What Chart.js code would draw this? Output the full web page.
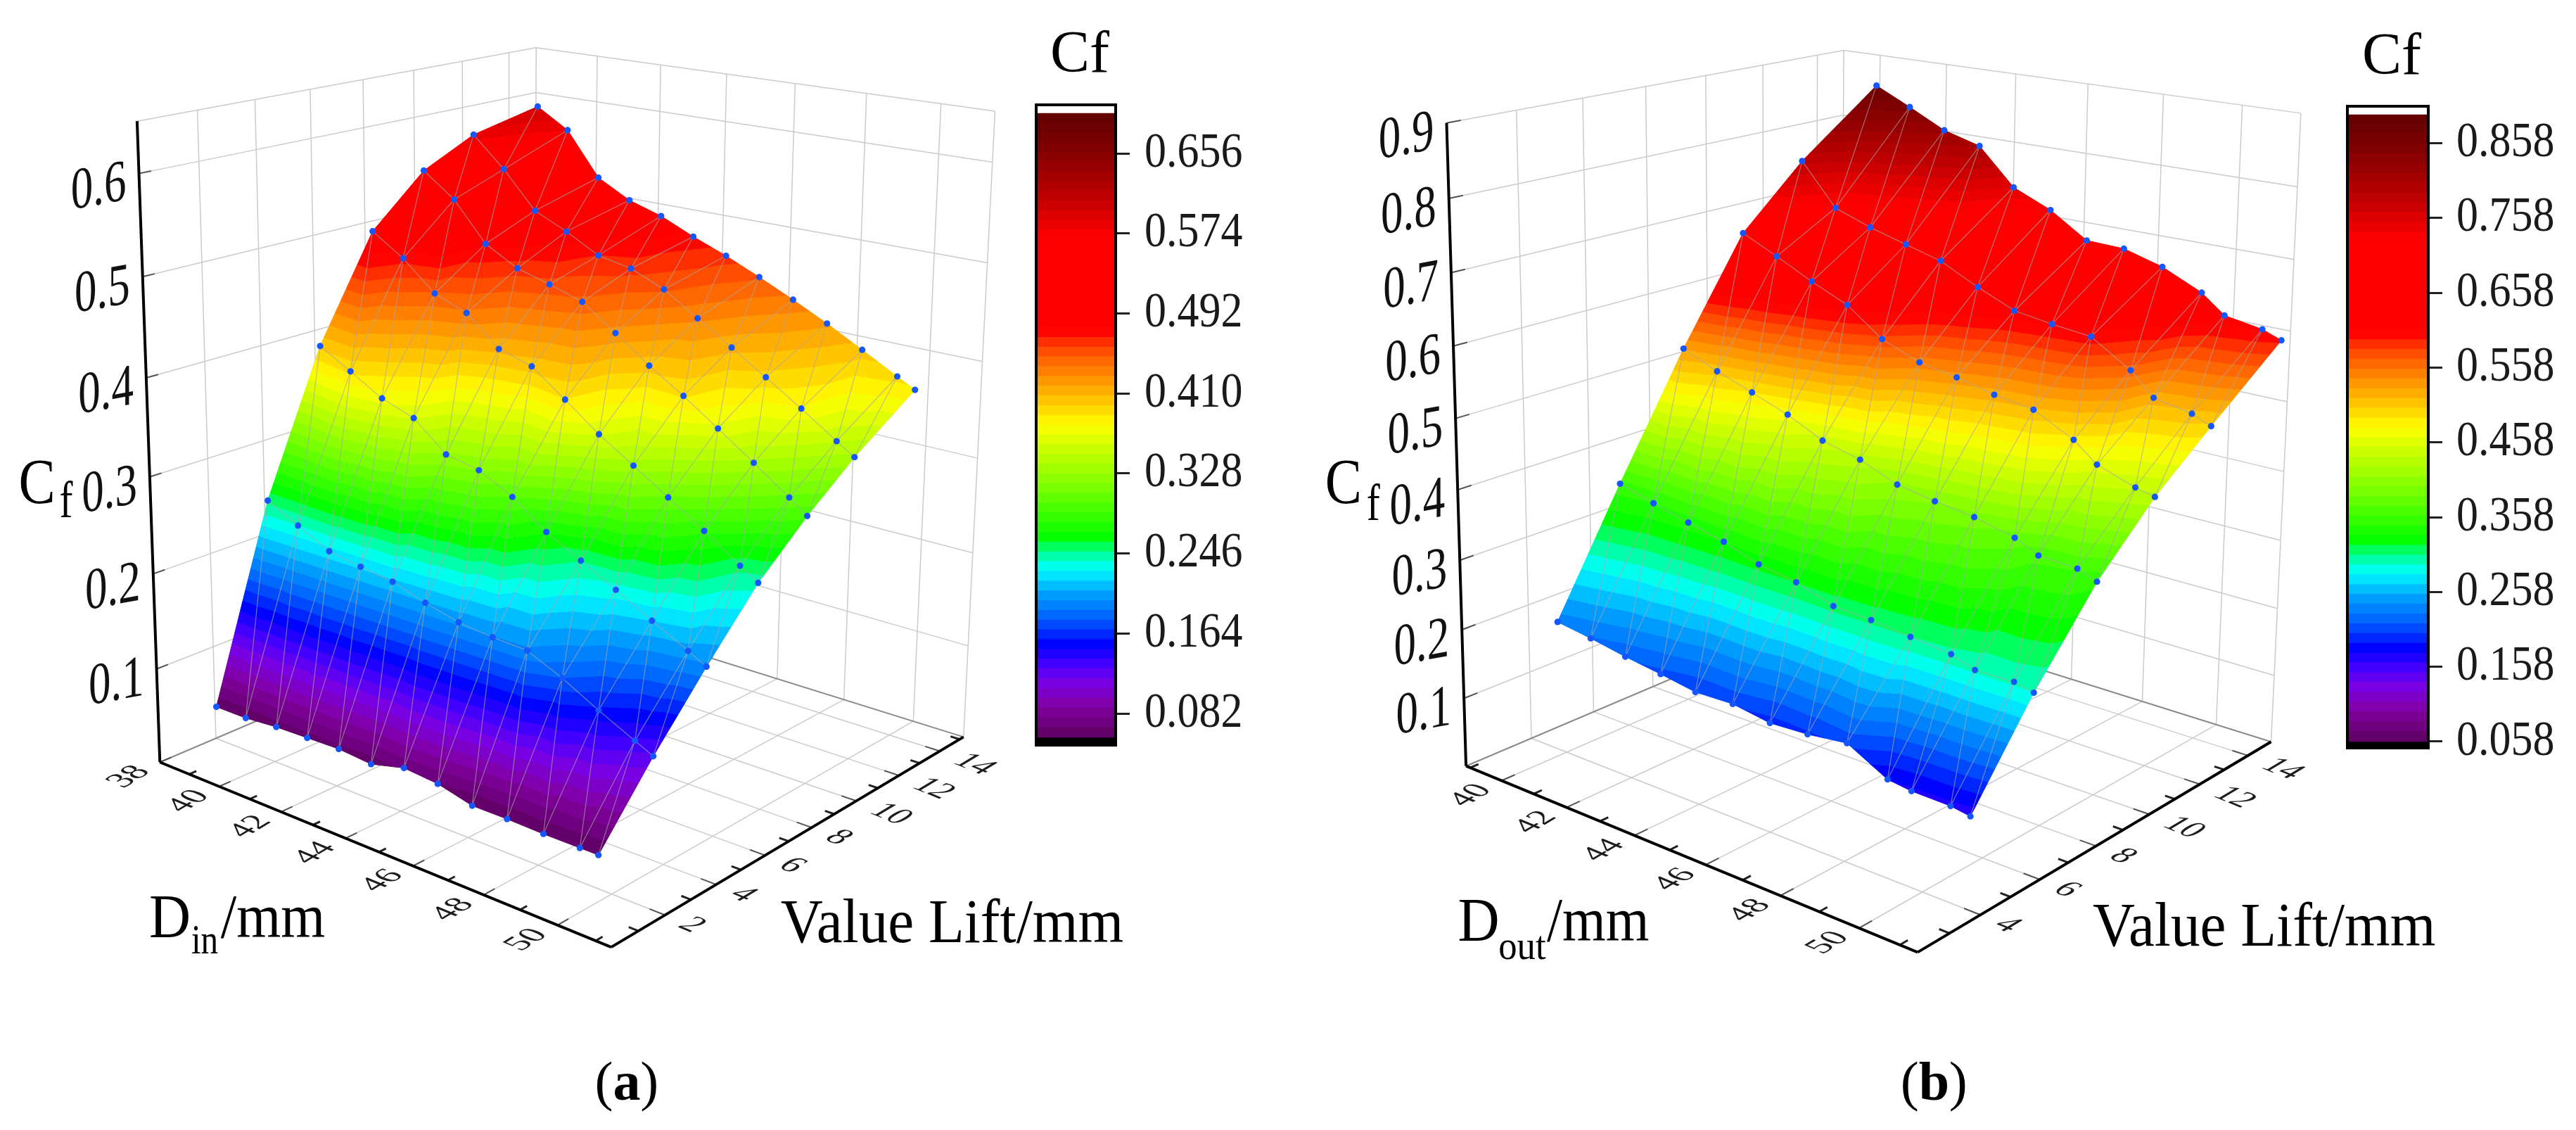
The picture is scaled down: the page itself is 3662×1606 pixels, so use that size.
<!DOCTYPE html>
<html><head><meta charset="utf-8">
<script src="https://cdn.jsdelivr.net/npm/chart.js@4"></script>
<style>html,body{margin:0;padding:0;background:#fff;width:3662px;height:1606px;overflow:hidden}canvas{position:absolute;display:block}</style>
</head><body>
<canvas id="main" width="3662" height="1606" style="left:0;top:0"></canvas>
<canvas id="cbA" width="340" height="1100" style="left:1440px;top:0"></canvas>
<canvas id="cbB" width="362" height="1100" style="left:3300px;top:0"></canvas>
<script>
// ---- data ----
const dInValues=[38,39,40.02,41.03,42.04,43.05,44.06,45.07,46.08,47.08,48.1,49.1,49.6];
const liftValuesA=[2.05,4.12,6.2,8.3,10.38,12.47,15.28];
const cfRowsA=[
[.034,.034,.037,.038,.039,.036,.045,.042,.033,.033,.032,.032,.032],
[.235,.218,.201,.195,.190,.179,.170,.166,.164,.148,.128,.110,.101],
[.382,.363,.343,.331,.302,.295,.277,.251,.232,.213,.193,.174,.164],
[.489,.467,.437,.424,.394,.384,.358,.331,.308,.285,.261,.236,.224],
[.541,.516,.475,.456,.446,.435,.410,.384,.361,.336,.310,.284,.270],
[.568,.536,.497,.481,.462,.455,.440,.417,.394,.371,.347,.322,.310],
[.584,.563,.516,.497,.486,.470,.456,.440,.423,.405,.385,.365,.355]];
const dOutValues=[40,41.02,42.06,43.1,44.1,45.15,46.17,47.18,48.21,49.25,49.85,50.81,51.29];
const liftValuesB=[3.8,5.83,7.95,10,12.1,14.87];
const cfRowsB=[
[.197,.190,.181,.174,.166,.168,.160,.163,.170,.141,.137,.136,.132],
[.365,.351,.338,.326,.309,.300,.283,.280,.274,.268,.257,.258,.252],
[.533,.512,.494,.475,.451,.438,.417,.408,.401,.388,.373,.370,.360],
[.679,.655,.629,.606,.568,.547,.538,.526,.518,.490,.464,.446,.440],
[.765,.704,.685,.670,.656,.629,.606,.598,.592,.557,.526,.516,.505],
[.855,.830,.803,.788,.735,.711,.676,.674,.658,.632,.606,.597,.587]];
// ---- axes ----
const dTicksA=[38,40,42,44,46,48,50], dTicksB=[40,42,44,46,48,50];
const dMinorA=[39,41,43,45,47,49,51], dMinorB=[39,41,43,45,47,49,51];
const liftTicksA=[2,4,6,8,10,12,14], liftTicksB=[4,6,8,10,12,14];
const liftMinorA=[1,3,5,7,9,11,13,15], liftMinorB=[3,5,7,9,11,13];
const cfTicksA=[.1,.2,.3,.4,.5,.6], cfTicksB=[.1,.2,.3,.4,.5,.6,.7,.8,.9];
const rangeA={d:[38,51.4],l:[0,15.2],z:[0,.65]}, rangeB={d:[38.87,51.43],l:[2,15],z:[0,.9]};
const colorTicksA=[.082,.164,.246,.328,.410,.492,.574,.656];
const colorTicksB=[.058,.158,.258,.358,.458,.558,.658,.758,.858];
// ---- colour scale ----
const cmapPos=[0,.048,.087,.119,.147,.19,.23,.269,.30,.317,.404,.50,.586,.626,.65,.80,.864,.943,1];
const cmapCol=['#5f0060','#8000a0','#7a00e6','#4000ff','#0000ff','#0060ff','#00a0ff','#00ffff','#00ff80','#00ff00','#80ff00','#ffff00','#ff8000','#ff4000','#ff0000','#ff0000','#c00000','#800000','#5f0000'];
const bandCount=64;
const colorRangeA=[.0575,.697], colorRangeB=[.058,.896];
const shadeZA=[.033,.101,.164,.235,.355,.382,.47,.584], shadeCA=[.0575,.125,.195,.25,.385,.40,.4735,.60];
const shadeZB=[.132,.197,.252,.28,.36,.533,.568,.855], shadeCB=[.167,.234,.293,.31,.35,.53,.578,.875];
// ---- camera reference (view of the box on the page) ----
const viewA=[[0,0,0,225,1085],[1,0,0,863,1351],[1,1,0,1371,1050],[0,1,0,752,857],[0,0,1,189,169],[0,1,1,763,64],[1,1,1,1412,154],[6/13.4,0,0,493,1195],[1,8/15.2,0,1152,1175],[0,0,.3/.65,207,675]];
const viewB=[[0,0,0,2087,1093],[1,0,0,2727,1357],[1,1,0,3235,1056],[0,1,0,2615,862],[0,0,1,2054,171],[0,1,1,2625,68],[1,1,1,3274,158],[5.13/12.56,0,0,2325,1190],[1,6/13,0,2981,1203],[0,0,.5/.9,2072,591]];

function solve(A,b){const n=b.length,M=A.map((r,i)=>[...r,b[i]]);for(let i=0;i<n;i++){let p=i;for(let k=i+1;k<n;k++)if(Math.abs(M[k][i])>Math.abs(M[p][i]))p=k;[M[i],M[p]]=[M[p],M[i]];for(let k=0;k<n;k++)if(k!=i){const f=M[k][i]/M[i][i];for(let j=i;j<=n;j++)M[k][j]-=f*M[i][j];}}return M.map((r,i)=>r[n]/r[i]);}
function camera(cor){const A=[],b=[];for(const [X,Y,Z,u,v] of cor){A.push([X,Y,Z,1,0,0,0,0,-u*X,-u*Y,-u*Z]);b.push(u);A.push([0,0,0,0,X,Y,Z,1,-v*X,-v*Y,-v*Z]);b.push(v);}
 const N=Array.from({length:11},(_,i)=>Array.from({length:11},(_,j)=>A.reduce((s,r)=>s+r[i]*r[j],0)));const B=Array.from({length:11},(_,i)=>A.reduce((s,r,k)=>s+r[i]*b[k],0));return solve(N,B);}
function makePanel(o){const p=camera(o.view),R=o.range;
 o.project=(d,l,z)=>{const X=(d-R.d[0])/(R.d[1]-R.d[0]),Y=(l-R.l[0])/(R.l[1]-R.l[0]),Z=(z-R.z[0])/(R.z[1]-R.z[0]),w=p[8]*X+p[9]*Y+p[10]*Z+1;return{x:(p[0]*X+p[1]*Y+p[2]*Z+p[3])/w,y:(p[4]*X+p[5]*Y+p[6]*Z+p[7])/w};};return o;}
const panelA=makePanel({view:viewA,range:rangeA,ds:dInValues,ls:liftValuesA,cf:cfRowsA,dT:dTicksA,dM:dMinorA,lT:liftTicksA,lM:liftMinorA,zT:cfTicksA,cr:colorRangeA,sz:shadeZA,sc:shadeCA});
const panelB=makePanel({view:viewB,range:rangeB,ds:dOutValues,ls:liftValuesB,cf:cfRowsB,dT:dTicksB,dM:dMinorB,lT:liftTicksB,lM:liftMinorB,zT:cfTicksB,cr:colorRangeB,sz:shadeZB,sc:shadeCB});

function hex(c){return[1,3,5].map(i=>parseInt(c.substr(i,2),16));}
function cmap(f){let i=0;while(i<cmapPos.length-2&&f>cmapPos[i+1])i++;const t=Math.max(0,Math.min(1,(f-cmapPos[i])/(cmapPos[i+1]-cmapPos[i]))),a=hex(cmapCol[i]),b=hex(cmapCol[i+1]);return'rgb('+a.map((v,k)=>Math.round(v+(b[k]-v)*t)).join(',')+')';}
function shade(P,z){const s=P.sz,c=P.sc;if(z<=s[0])return c[0];for(let i=1;i<s.length;i++)if(z<=s[i])return c[i-1]+(c[i]-c[i-1])*(z-s[i-1])/(s[i]-s[i-1]);return c[c.length-1];}

// ---- line datasets ----
const GAP={x:NaN,y:NaN};
function segs(P,list){const out=[];for(const [a,b] of list){out.push(P.project(...a),P.project(...b),GAP);}return out;}
function lineSet(data,color,width,order){return{type:'scatter',data,showLine:true,borderColor:color,borderWidth:width,pointRadius:0,spanGaps:false,order};}
function panelSets(P,key){const R=P.range,[d0,d1]=R.d,[l0,l1]=R.l,[z0,z1]=R.z,grid=[],edge=[],box=[],maj=[],min=[],mesh=[],nr=P.ls.length,nc=P.ds.length,pts=[];
 for(const d of P.dT){if(d>d0)grid.push([[d,l0,0],[d,l1,0]]);grid.push([[d,l1,0],[d,l1,z1]]);maj.push([[d,l0,0],[d,l0+.4,0]]);}
 for(const d of P.dM)if(d>d0&&d<d1)min.push([[d,l0,0],[d,l0+.25,0]]);
 for(const l of P.lT){grid.push([[d0,l,0],[d1,l,0]]);grid.push([[d0,l,0],[d0,l,z1]]);maj.push([[d1,l,0],[d1-.4,l,0]]);}
 for(const l of P.lM)if(l>l0&&l<l1)min.push([[d1,l,0],[d1-.25,l,0]]);
 for(const z of P.zT){if(z<z1){grid.push([[d0,l0,z],[d0,l1,z]]);grid.push([[d0,l1,z],[d1,l1,z]]);}maj.push([[d0,l0,z],[d0,l0+.4,z]]);}
 grid.push([[d0,l0,z1],[d0,l1,z1]],[[d0,l1,z1],[d1,l1,z1]],[[d0,l1,0],[d0,l1,z1]],[[d1,l1,0],[d1,l1,z1]]);
 edge.push([[d0,l0,0],[d0,l1,0]],[[d0,l1,0],[d1,l1,0]]);
 box.push([[d0,l0,0],[d1,l0,0]],[[d1,l0,0],[d1,l1,0]],[[d0,l0,0],[d0,l0,z1]]);
 const V=(r,c)=>[P.ds[c],P.ls[r],P.cf[r][c]];
 for(let r=0;r<nr;r++)for(let c=0;c<nc;c++){pts.push(P.project(...V(r,c)));
  if(r>0&&r<nr-1&&c<nc-1)mesh.push([V(r,c),V(r,c+1)]);
  if(r<nr-1){if(c>0&&c<nc-1)mesh.push([V(r,c),V(r+1,c)]);if(c<nc-1)mesh.push([V(r,c+1),V(r+1,c)]);}}
 return[lineSet(segs(P,grid),'#cbcbcb',1.5,60),lineSet(segs(P,edge),'#8a8a8a',2,55),lineSet(segs(P,maj),'#555',2,52),lineSet(segs(P,min),'#222',3,51),lineSet(segs(P,box),'#000',4,50),
  {type:'scatter',data:[],surface:key,order:40},lineSet(segs(P,mesh),'rgba(165,165,170,.62)',1.3,30),
  {type:'scatter',data:pts,showLine:false,pointRadius:4.6,pointBackgroundColor:'#1556ff',pointBorderWidth:0,order:20}];}

// ---- surface drawn through the plot scales ----
function clip(poly,lim,keepAbove){const o=[];for(let i=0;i<poly.length;i++){const a=poly[i],b=poly[(i+1)%poly.length],ia=keepAbove?a.c>=lim:a.c<=lim,ib=keepAbove?b.c>=lim:b.c<=lim;if(ia)o.push(a);if(ia!==ib){const t=(lim-a.c)/(b.c-a.c);o.push({x:a.x+(b.x-a.x)*t,y:a.y+(b.y-a.y)*t,c:lim});}}return o;}
function drawSurface(chart,P){const ctx=chart.ctx,sx=chart.scales.x,sy=chart.scales.y,[cLo,cHi]=P.cr,step=(cHi-cLo)/bandCount,nr=P.ls.length,nc=P.ds.length;
 const pix=(r,c)=>{const q=P.project(P.ds[c],P.ls[r],P.cf[r][c]);return{x:sx.getPixelForValue(q.x),y:sy.getPixelForValue(q.y),c:shade(P,P.cf[r][c])};};
 ctx.save();ctx.lineWidth=1;ctx.lineJoin='round';
 const tri=t=>{const mn=Math.min(t[0].c,t[1].c,t[2].c),mx=Math.max(t[0].c,t[1].c,t[2].c);let k0=Math.max(0,Math.floor((mn-cLo)/step)),k1=Math.min(bandCount-1,Math.floor((mx-cLo)/step));
  for(let k=k0;k<=k1;k++){let q=clip(t,cLo+k*step,true);if(q.length)q=clip(q,cLo+(k+1)*step,false);if(q.length<3)continue;const col=cmap((k+.5)/bandCount);ctx.fillStyle=col;ctx.strokeStyle=col;ctx.beginPath();q.forEach((v,i)=>i?ctx.lineTo(v.x,v.y):ctx.moveTo(v.x,v.y));ctx.closePath();ctx.fill();ctx.stroke();}};
 for(let r=nr-2;r>=0;r--)for(let c=0;c<nc-1;c++){const a=pix(r,c),b=pix(r,c+1),d=pix(r+1,c),e=pix(r+1,c+1);tri([a,b,d]);tri([b,e,d]);}
 ctx.restore();}

// ---- text helpers ----
const SERIF='"Liberation Serif"';
function txt(chart,s,x,y,font,h,v){const ctx=chart.ctx;ctx.save();ctx.setTransform(h,0,0,v||1,chart.scales.x.getPixelForValue(x),chart.scales.y.getPixelForValue(y));ctx.font=font;ctx.fillStyle='#000';ctx.textAlign='left';ctx.textBaseline='alphabetic';ctx.fillText(s,0,0);ctx.restore();}
function planeText(chart,s,at,u,v,align,font){const ctx=chart.ctx;ctx.save();ctx.setTransform(u[0],u[1],-v[0],-v[1],chart.scales.x.getPixelForValue(at[0]),chart.scales.y.getPixelForValue(at[1]));ctx.font=font;ctx.fillStyle='#1c1c1c';ctx.textAlign=align;ctx.textBaseline='middle';ctx.fillText(s,0,0);ctx.restore();}
function unit(a,b){const dx=b.x-a.x,dy=b.y-a.y,n=Math.hypot(dx,dy);return[dx/n,dy/n];}
function drawAxisText(chart,P){const R=P.range,[d0,d1]=R.d,[l0,l1]=R.l,ctx=chart.ctx;
 const dU=unit(P.project(d0,l0,0),P.project(d1,l0,0)),lU=unit(P.project(d1,l0,0),P.project(d1,l1,0));
 for(const d of P.dT){const q=P.project(d,l0,0);planeText(chart,String(d),[q.x-44,q.y+21],lU,[-dU[0],-dU[1]],'center','47px '+SERIF);}
 for(const l of P.lT){const q=P.project(d1,l,0);planeText(chart,String(l),[q.x+27,q.y+10],dU,lU,'left','47px '+SERIF);}
 for(const z of P.zT){const q=P.project(d0,l0,z);ctx.save();ctx.setTransform(1.05,-.19,0,1.4,chart.scales.x.getPixelForValue(q.x-18),chart.scales.y.getPixelForValue(q.y+37));ctx.font='60px '+SERIF;ctx.fillStyle='#111';ctx.textAlign='right';ctx.textBaseline='alphabetic';ctx.fillText(z.toFixed(1),0,0);ctx.restore();}}

const pageTextPlugin={id:'pageText',
 beforeDatasetDraw(chart,args){const k=chart.data.datasets[args.index].surface;if(k)drawSurface(chart,k==='a'?panelA:panelB);},
 afterDraw(chart){drawAxisText(chart,panelA);drawAxisText(chart,panelB);
  const big='88px '+SERIF;
  txt(chart,'C',22,714,'92px '+SERIF,.85,1);txt(chart,'f',80,735,'60px '+SERIF,.95,1.25);
  txt(chart,'D',208,1335,big,.93,1);txt(chart,'in',268,1358,'60px '+SERIF,.82,1);txt(chart,'/mm',310,1335,big,.92,1);
  txt(chart,'Value Lift/mm',1108,1342,big,.945,1);
  txt(chart,'C',1884,714,'92px '+SERIF,.85,1);txt(chart,'f',1943,739,'60px '+SERIF,.95,1.25);
  txt(chart,'D',2073,1340,big,.93,1);txt(chart,'out',2131,1366,'56px '+SERIF,.94,1);txt(chart,'/mm',2200,1340,big,.9,1);
  txt(chart,'Value Lift/mm',2978,1347,big,.945,1);
  const R='78px '+SERIF,B='bold 78px '+SERIF;
  txt(chart,'(',843,1567,R,1);txt(chart,'a',869,1567,B,1);txt(chart,')',908,1567,R,1);
  txt(chart,'(',2704,1567,R,1);txt(chart,'b',2730,1567,B,1);txt(chart,')',2773,1567,R,1);
 }};

new Chart(document.getElementById('main'),{data:{datasets:[...panelSets(panelA,'a'),...panelSets(panelB,'b')]},
 plugins:[pageTextPlugin],
 options:{responsive:false,animation:false,devicePixelRatio:1,layout:{padding:0},
  plugins:{legend:{display:false},title:{display:false},tooltip:{enabled:false}},
  scales:{x:{type:'linear',display:false,min:0,max:3662},y:{type:'linear',display:false,min:0,max:1606,reverse:true}}}});

// ---- colour bars ----
function colorBar(id,range,axisMin,axisMax,ticks,opt){
 const[lo,hi]=range,step=(hi-lo)/bandCount,sets=[{data:[[axisMin,lo]],backgroundColor:'#000',order:1},{data:[[hi,axisMax]],backgroundColor:'#fff',order:1}];
 for(let k=0;k<bandCount;k++)sets.push({data:[[lo+k*step,Math.min(hi,lo+(k+1)*step+step*.05)]],backgroundColor:cmap((k+.5)/bandCount),order:0});
 sets.forEach(s=>{s.barPercentage=1;s.categoryPercentage=1;s.borderWidth=0;s.grouped=false;});
 new Chart(document.getElementById(id),{type:'bar',data:{labels:['Cf'],datasets:sets},
  plugins:[{id:'frame',afterDraw(c){const a=c.chartArea,x=c.ctx,sc=c.scales.y;x.save();x.strokeStyle='#000';x.lineWidth=4;x.strokeRect(a.left,a.top,a.right-a.left,a.bottom-a.top);x.font='84px '+SERIF;x.fillStyle='#000';x.textAlign='center';x.textBaseline='alphabetic';x.fillText('Cf',opt.titleX,opt.titleY);x.restore();
    for(const v of ticks){x.save();x.setTransform(1,0,0,1.14,a.right+opt.labelGap,sc.getPixelForValue(v));x.font='62px '+SERIF;x.fillStyle='#1a1a1a';x.textAlign='left';x.textBaseline='middle';x.fillText(v.toFixed(3),0,0);x.restore();}}}],
  options:{responsive:false,animation:false,devicePixelRatio:1,layout:{padding:{left:opt.left,top:opt.top,bottom:opt.bottom,right:0}},
   plugins:{legend:{display:false},title:{display:false},tooltip:{enabled:false}},
   scales:{x:{display:false,grid:{display:false}},
    y:{position:'right',min:axisMin,max:axisMax,afterFit(s){s.width=opt.axisWidth;s.paddingTop=0;s.paddingBottom=0;},afterBuildTicks(s){s.ticks=ticks.map(v=>({value:v}));},
     grid:{drawOnChartArea:false,drawTicks:true,tickLength:20,tickColor:'#222',tickWidth:3},border:{display:false},
     ticks:{display:false}}}}});
}
colorBar('cbA',colorRangeA,.0496,.7058,colorTicksA,{left:33,top:149,bottom:1100-1059,axisWidth:340-146,titleX:95,titleY:102,labelGap:41});
colorBar('cbB',colorRangeB,.0495,.9073,colorTicksB,{left:37,top:151,bottom:1100-1063,axisWidth:362-152,titleX:100,titleY:105,labelGap:40});
</script>
</body></html>
